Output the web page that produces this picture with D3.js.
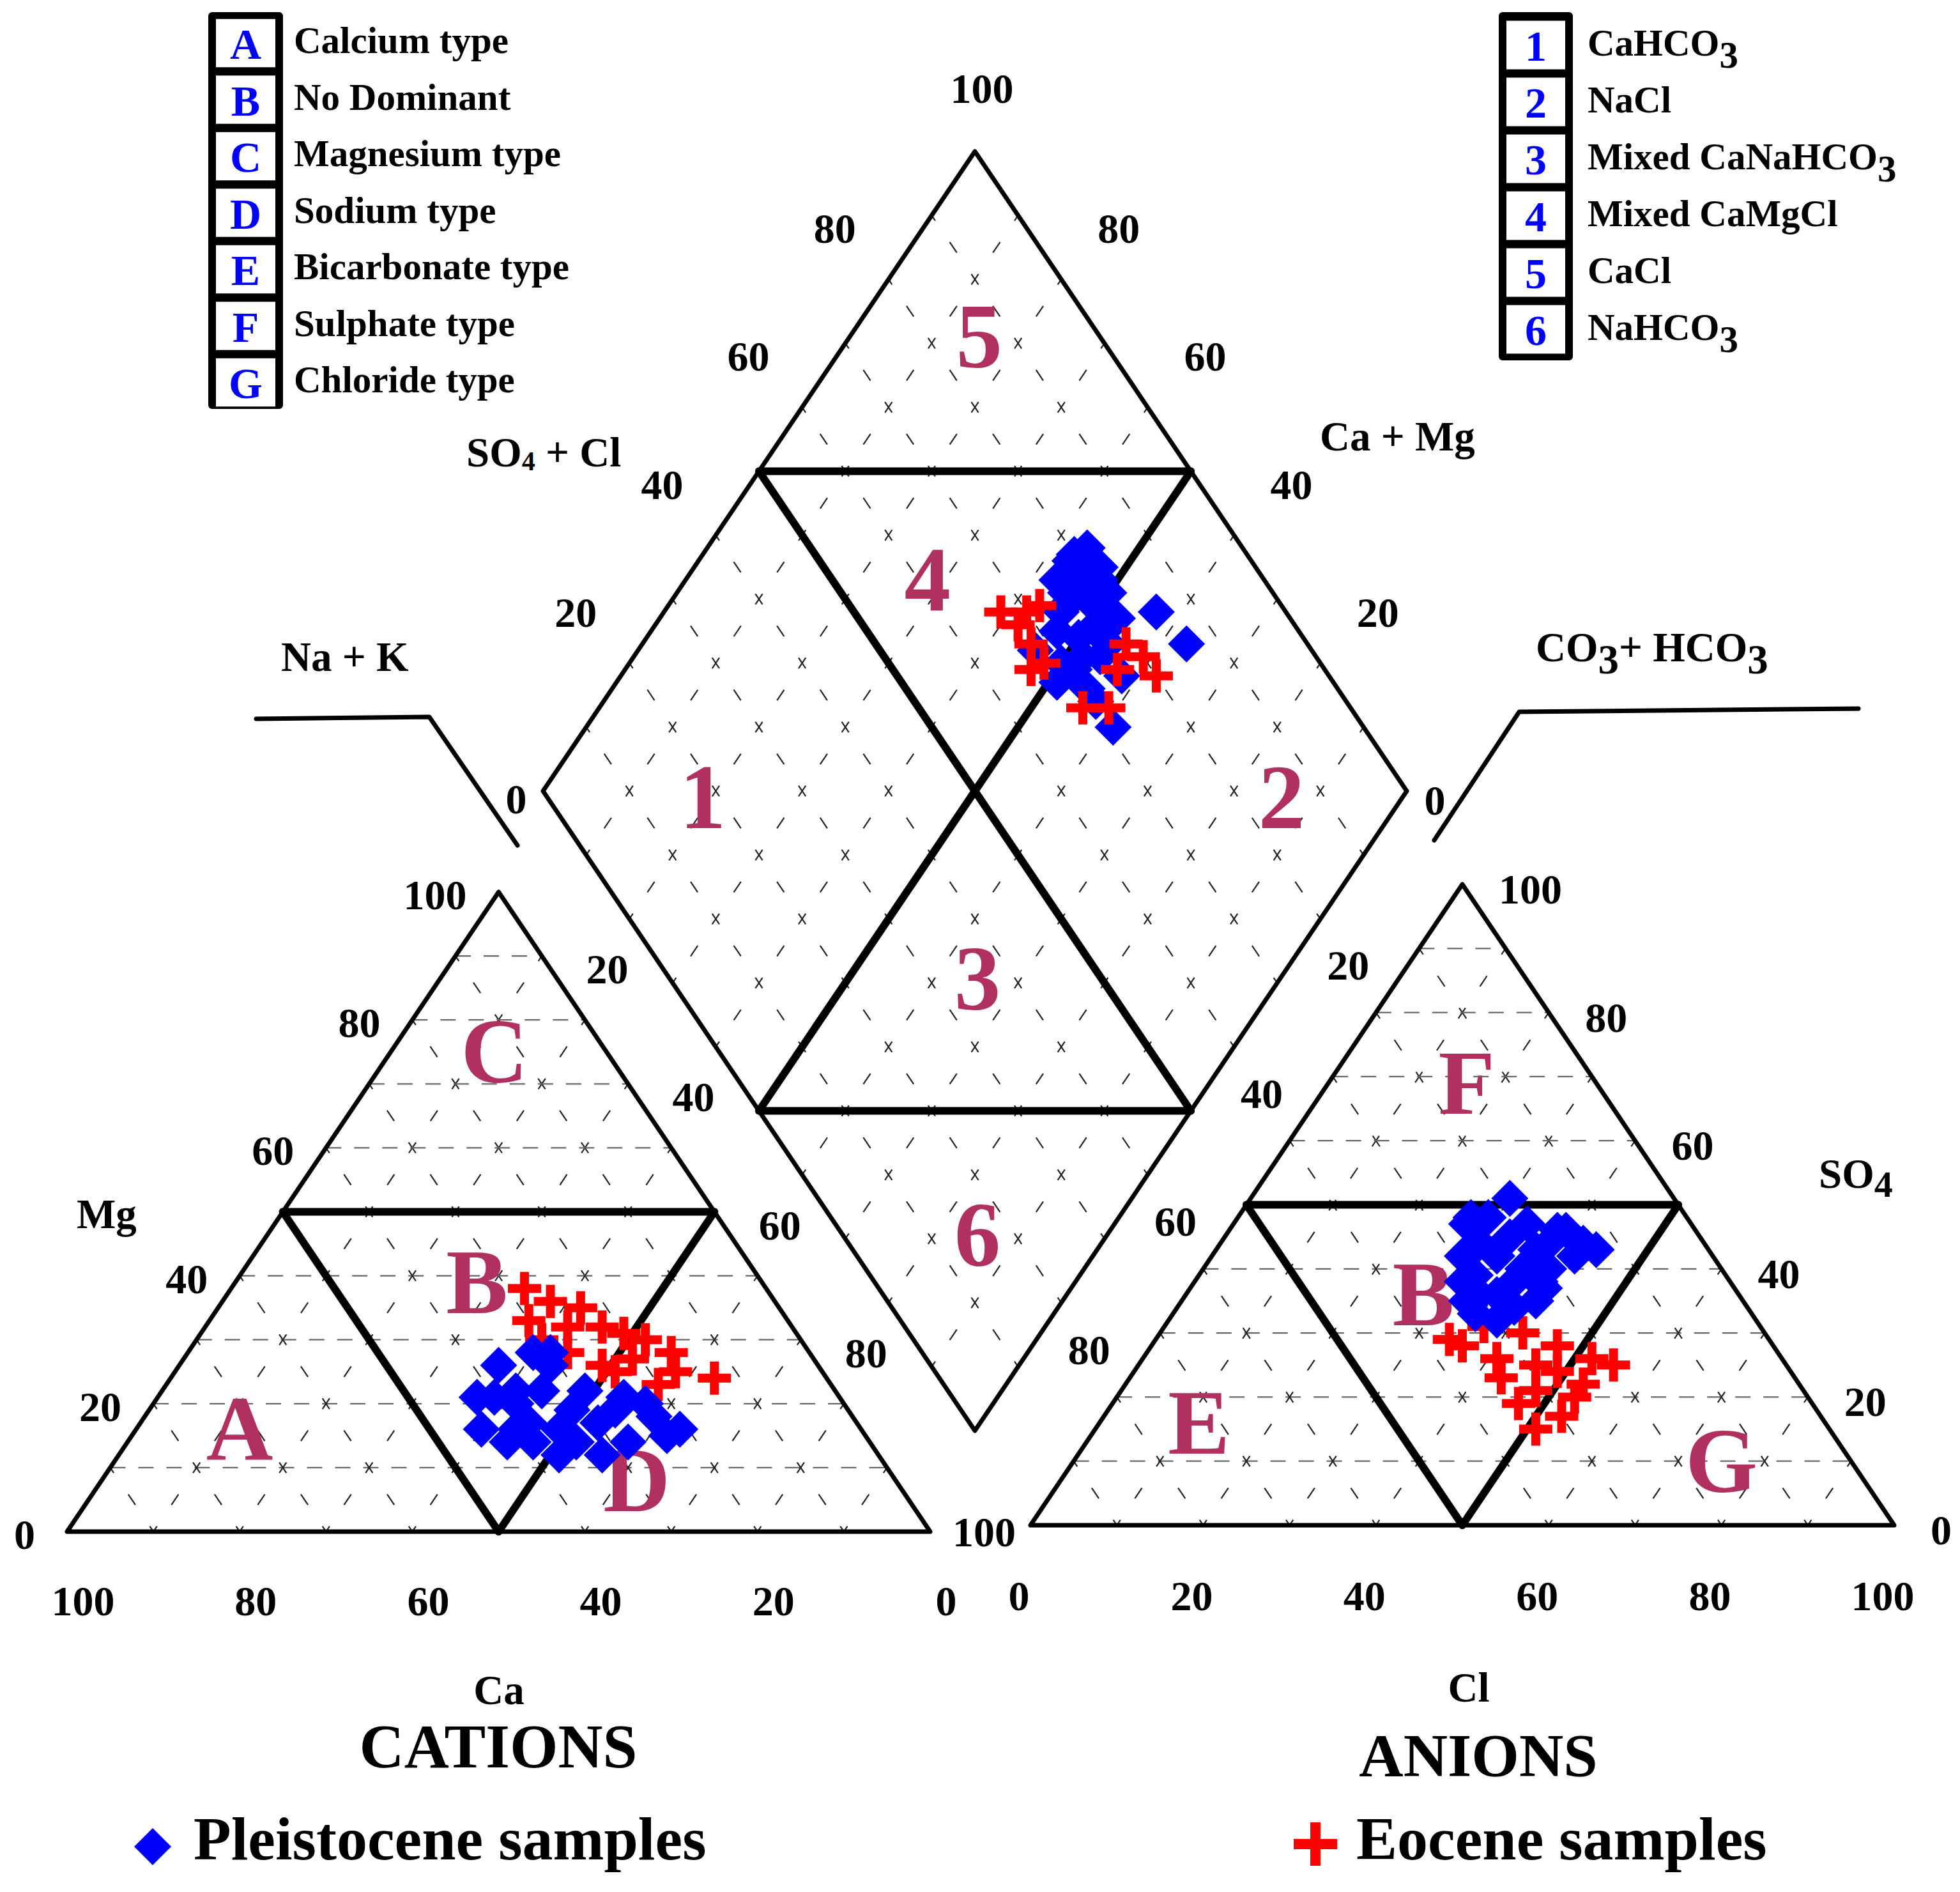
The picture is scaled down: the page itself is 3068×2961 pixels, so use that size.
<!DOCTYPE html>
<html>
<head>
<meta charset="utf-8">
<script src="https://cdn.jsdelivr.net/npm/d3@7/dist/d3.min.js"></script>
<style>
  body { margin: 0; background: #fff; }
  text { font-family: "Liberation Serif", "Times New Roman", serif; font-weight: bold; }
</style>
</head>
<body>
<div id="chart"></div>
<script>
/////////////////////////////////////////////////
/* Data */
/////////////////////////////////////////////////
const tickValues = [0, 20, 40, 60, 80, 100];
const innerTicks = [20, 40, 60, 80];
const gridValues = [10, 20, 30, 40, 50, 60, 70, 80, 90];

const typeKeys = ["A", "B", "C", "D", "E", "F", "G"];
const typeNames = ["Calcium type", "No Dominant", "Magnesium type", "Sodium type",
                   "Bicarbonate type", "Sulphate type", "Chloride type"];
const waterKeys = ["1", "2", "3", "4", "5", "6"];
// [main text, subscript]
const waterNames = [["CaHCO", "3"], ["NaCl", ""], ["Mixed CaNaHCO", "3"],
                    ["Mixed CaMgCl", ""], ["CaCl", ""], ["NaHCO", "3"]];

// cations [Ca, Mg, Na+K] in %
const pleistoceneCations = [
  [32, 28, 40], [37, 26, 37], [31, 26, 43], [40, 21, 39], [44, 16, 40], [42, 14, 44],
  [38, 17, 45], [39, 14, 47], [37, 12, 51], [29, 22, 49], [32, 12, 56], [25, 21, 54],
  [23, 20, 57], [21, 16, 63], [28, 14, 58], [32, 19, 49], [37, 22, 41], [30, 17, 53],
  [23, 18, 59], [38, 20, 42], [34, 22, 44], [35, 16, 49], [40, 16, 44], [34, 14, 52],
  [27, 19, 54], [42, 21, 37], [30, 28, 42], [23, 15, 62]
];
const eoceneCations = [
  [28, 38, 34], [26, 36, 38], [23, 35, 42], [30, 33, 37], [26, 32, 42], [22, 32, 46],
  [20, 31, 49], [18, 30, 52], [16, 28, 56], [13, 24, 63], [30, 30, 40], [28, 28, 44],
  [25, 26, 49], [24, 25, 51], [20, 23, 57], [17, 25, 58], [21, 27, 52]
];

// anions [CO3+HCO3, SO4, Cl] in %
const pleistoceneAnions = [
  [19, 51, 30], [26, 47, 27], [23, 48, 29], [19, 47, 34], [15, 46, 39], [13, 43, 44],
  [14, 44, 42], [29, 42, 29], [31, 38, 31], [32, 35, 33], [30, 32, 38], [24, 35, 41],
  [20, 40, 40], [22, 38, 40], [25, 42, 33], [25, 38, 37], [30, 36, 34], [18, 44, 38],
  [26, 44, 30], [22, 45, 33], [20, 43, 37], [16, 46, 38], [23, 40, 37], [29, 39, 32],
  [32, 33, 35], [27, 34, 39], [28, 36, 36], [22, 37, 41], [16, 42, 42], [25, 48, 27]
];
const eoceneAnions = [
  [37, 29, 34], [36, 28, 36], [32, 31, 37], [28, 30, 42], [25, 28, 47], [22, 26, 52],
  [20, 25, 55], [33, 26, 41], [34, 23, 43], [34, 19, 47], [34, 15, 51], [30, 17, 53],
  [27, 20, 53], [25, 22, 53], [27, 24, 49], [31, 21, 48], [29, 25, 46]
];

// diamond [Ca+Mg, SO4+Cl] in %
const pleistoceneDiamond = [
  [56, 82], [57, 79], [53, 82], [57, 76], [52, 81], [47, 80], [49, 79], [54, 68],
  [49, 68], [42, 76], [43, 71], [39, 71], [43, 85], [37, 86], [54, 75], [50, 74],
  [48, 71], [46, 75], [55, 76], [53, 72], [55, 79], [52, 78], [54, 74], [49, 77],
  [48, 73], [46, 77], [45, 71], [50, 70], [57, 80], [50, 81]
];
const eoceneDiamond = [
  [61, 67], [58, 70], [57, 72], [58, 68], [55, 68], [53, 66], [52, 68], [44, 69],
  [41, 72], [43, 76], [44, 79], [41, 80], [38, 80]
];

/////////////////////////////////////////////////
/* Layout */
/////////////////////////////////////////////////
const W = 3068, H = 2961;
const MAROON = "#b03060";
const BLUE = "#0000ff";
const RED = "#ff0000";

const svg = d3.select("#chart").append("svg")
  .attr("width", W).attr("height", H)
  .style("background", "#fff");

// scales for each plot
const xL = d3.scaleLinear().domain([0, 100]).range([105, 1456]);
const yL = d3.scaleLinear().domain([0, 100]).range([2397, 1396]);
const xR = d3.scaleLinear().domain([0, 100]).range([1613, 2965]);
const yR = d3.scaleLinear().domain([0, 100]).range([2387, 1384]);
const xD = d3.scaleLinear().domain([-100, 100]).range([850, 2202]);
const yD = d3.scaleLinear().domain([0, 200]).range([2239, 237]);

// ternary / diamond positions
function cat(mg, na) { return [xL(na + mg / 2), yL(mg)]; }
function ani(so4, cl) { return [xR(cl + so4 / 2), yR(so4)]; }
function dia(camg, so4cl) { return [xD(so4cl - camg), yD(camg + so4cl)]; }

const line = d3.line();

function seg(g, a, b, cls) {
  g.append("path").attr("class", cls).attr("d", line([a, b]));
}

/////////////////////////////////////////////////
/* Grid */
/////////////////////////////////////////////////
const grid = svg.append("g");
gridValues.forEach(v => {
  // left triangle
  seg(grid, cat(v, 0), cat(v, 100 - v), "hgrid");
  seg(grid, cat(0, v), cat(100 - v, v), "dgrid");
  seg(grid, cat(0, 100 - v), cat(100 - v, 0), "dgrid");
  // right triangle
  seg(grid, ani(v, 0), ani(v, 100 - v), "hgrid");
  seg(grid, ani(0, v), ani(100 - v, v), "dgrid");
  seg(grid, ani(0, 100 - v), ani(100 - v, 0), "dgrid");
  // diamond
  seg(grid, dia(v, 0), dia(v, 100), "dgrid");
  seg(grid, dia(0, v), dia(100, v), "dgrid");
});
grid.selectAll(".hgrid").attr("stroke", "#666").attr("stroke-width", 2.2)
  .attr("stroke-dasharray", "24,20").attr("fill", "none");
grid.selectAll(".dgrid").attr("stroke", "#222").attr("stroke-width", 2.2)
  .attr("stroke-dasharray", "20,40.4").attr("stroke-dashoffset", 10).attr("fill", "none");

/////////////////////////////////////////////////
/* Outlines and field boundaries */
/////////////////////////////////////////////////
const frame = svg.append("g").attr("fill", "none").attr("stroke", "#000")
  .attr("stroke-linejoin", "round").attr("stroke-linecap", "round");

frame.append("path").attr("stroke-width", 7)
  .attr("d", line([cat(0, 0), cat(0, 100), cat(100, 0)]) + "Z");
frame.append("path").attr("stroke-width", 7)
  .attr("d", line([ani(0, 0), ani(0, 100), ani(100, 0)]) + "Z");
frame.append("path").attr("stroke-width", 7)
  .attr("d", line([dia(0, 0), dia(100, 0), dia(100, 100), dia(0, 100)]) + "Z");

const thick = [
  [cat(50, 0), cat(50, 50)], [cat(50, 0), cat(0, 50)], [cat(0, 50), cat(50, 50)],
  [ani(50, 0), ani(50, 50)], [ani(50, 0), ani(0, 50)], [ani(0, 50), ani(50, 50)],
  [dia(100, 50), dia(0, 50)], [dia(50, 100), dia(50, 0)],
  [dia(100, 50), dia(50, 100)], [dia(50, 0), dia(0, 50)]
];
thick.forEach(s => frame.append("path").attr("stroke-width", 12).attr("d", line(s)));

// leader lines for Na + K and CO3 + HCO3
frame.append("path").attr("stroke-width", 7).attr("d", line([[401, 1125], [672, 1122], [810, 1323]]));
frame.append("path").attr("stroke-width", 7).attr("d", line([[2909, 1109], [2378, 1114], [2245, 1315]]));

/////////////////////////////////////////////////
/* Field labels */
/////////////////////////////////////////////////
const fields = svg.append("g").attr("fill", MAROON).attr("font-size", 145)
  .attr("text-anchor", "middle");
function field(p, t) { fields.append("text").attr("x", p[0]).attr("y", p[1] + 48).text(t); }
field(cat(75, 12), "C");
field(cat(39, 28), "B");
field(cat(16, 12), "A");
field(cat(8, 62), "D");
field(ani(69, 16), "F");
field(ani(36, 27.5), "B");
field(ani(16, 11.5), "E");
field(ani(10, 75), "G");
field(dia(85, 86), "5");
field(dia(72, 61), "4");
field(dia(81, 18), "1");
field(dia(14, 85), "2");
field(dia(35, 35.6), "3");
field(dia(15, 15.6), "6");

/////////////////////////////////////////////////
/* Tick labels */
/////////////////////////////////////////////////
const tl = svg.append("g").attr("font-size", 66).attr("fill", "#000");
function lab(x, y, t, anchor) {
  tl.append("text").attr("x", x).attr("y", y).attr("text-anchor", anchor || "middle").text(t);
}
function mid(a, b) { return [(a[0] + b[0]) / 2, (a[1] + b[1]) / 2]; }

tickValues.forEach(t => {
  // Ca along the bottom (100 at the left)
  lab(xL(100 - t) + 25, yL(0) + 131, t);
  // Mg on the left side
  const pm = cat(t, 0);
  lab(pm[0] - 50, pm[1] + 27, t, "end");
  // Cl along the bottom
  lab(xR(t) - 18, yR(0) + 133, t);
  // SO4 on the right side
  const ps = ani(t, 100 - t);
  lab(ps[0] + 57, ps[1] + 30, t, "start");
});
innerTicks.forEach(t => {
  // Na + K between cation triangle and diamond
  const pn = mid(cat(100 - t, t), dia(100 - t, 0));
  lab(pn[0], pn[1] + 22, t);
  // CO3 + HCO3 between anion triangle and diamond
  const ph = mid(ani(100 - t, 0), dia(0, 100 - t));
  lab(ph[0], ph[1] + 22, t);
  // SO4 + Cl on the diamond upper left edge
  const pu = dia(100, t);
  lab(pu[0] - 84, pu[1] - 57, t);
  // Ca + Mg on the diamond upper right edge
  const pr = dia(t, 100);
  lab(pr[0] + 90, pr[1] - 57, t);
});
lab((xL(100) + xR(0)) / 2 + 6, yL(0) + 23, 100);
lab(dia(100, 0)[0] - 42, dia(100, 0)[1] + 35, 0);
lab(dia(0, 100)[0] + 44, dia(0, 100)[1] + 37, 0);
lab(dia(100, 100)[0] + 11, dia(100, 100)[1] - 76, 100);

/////////////////////////////////////////////////
/* Axis titles */
/////////////////////////////////////////////////
const at = svg.append("g").attr("font-size", 65).attr("fill", "#000");
let t1 = at.append("text").attr("x", 730).attr("y", 730);
t1.append("tspan").text("SO");
t1.append("tspan").attr("font-size", 42).attr("dy", 6).text("4");
t1.append("tspan").attr("dy", -6).text(" + Cl");

at.append("text").attr("x", 2066).attr("y", 705).text("Ca + Mg");
at.append("text").attr("x", 440).attr("y", 1050).text("Na + K");

let t2 = at.append("text").attr("x", 2404).attr("y", 1035);
t2.append("tspan").text("CO");
t2.append("tspan").attr("dy", 19).text("3");
t2.append("tspan").attr("dy", -19).text("+ HCO");
t2.append("tspan").attr("dy", 19).text("3");

at.append("text").attr("x", 120).attr("y", 1922).text("Mg");
let t3 = at.append("text").attr("x", 2847).attr("y", 1859);
t3.append("tspan").text("SO");
t3.append("tspan").attr("font-size", 58).attr("dy", 14).text("4");

at.append("text").attr("x", 781).attr("y", 2667).attr("text-anchor", "middle").text("Ca");
at.append("text").attr("x", 2299).attr("y", 2663).attr("text-anchor", "middle").text("Cl");
at.append("text").attr("x", 780).attr("y", 2766).attr("text-anchor", "middle")
  .attr("font-size", 97).text("CATIONS");
at.append("text").attr("x", 2314).attr("y", 2780).attr("text-anchor", "middle")
  .attr("font-size", 96).text("ANIONS");

/////////////////////////////////////////////////
/* Sample markers */
/////////////////////////////////////////////////
function diamondPath(r) { return `M0,${-r}L${r},0L0,${r}L${-r},0Z`; }
function crossPath(a, h) {
  return `M${-h},${-a}H${h}V${-h}H${a}V${h}H${h}V${a}H${-h}V${h}H${-a}V${-h}H${-h}Z`;
}

const marks = svg.append("g");
function drawDiamonds(pts) {
  marks.append("g").selectAll("path").data(pts).join("path")
    .attr("d", diamondPath(29)).attr("fill", BLUE)
    .attr("transform", d => `translate(${d[0]},${d[1]})`);
}
function drawCrosses(pts) {
  marks.append("g").selectAll("path").data(pts).join("path")
    .attr("d", crossPath(26, 7)).attr("fill", RED)
    .attr("transform", d => `translate(${d[0]},${d[1]})`);
}

drawCrosses(eoceneCations.map(d => cat(d[1], d[2])));
drawDiamonds(pleistoceneCations.map(d => cat(d[1], d[2])));
drawCrosses(eoceneAnions.map(d => ani(d[1], d[2])));
drawDiamonds(pleistoceneAnions.map(d => ani(d[1], d[2])));
drawDiamonds(pleistoceneDiamond.map(d => dia(d[0], d[1])));
drawCrosses(eoceneDiamond.map(d => dia(d[0], d[1])));

/////////////////////////////////////////////////
/* Legends */
/////////////////////////////////////////////////
function keyBox(x0, x1, yTop, yBot, c0, step, keys) {
  const g = svg.append("g");
  g.append("rect").attr("x", x0).attr("y", yTop).attr("width", x1 - x0)
    .attr("height", yBot - yTop).attr("rx", 6).attr("fill", "#000");
  keys.forEach((k, i) => {
    const cy = c0 + i * step;
    g.append("rect").attr("x", x0 + 12).attr("y", cy - step / 2 + 7)
      .attr("width", x1 - x0 - 24).attr("height", step - 13).attr("fill", "#fff");
    g.append("text").attr("x", (x0 + x1) / 2).attr("y", cy + 25)
      .attr("text-anchor", "middle").attr("font-size", 68).attr("fill", BLUE).text(k);
  });
  return g;
}

const lg1 = keyBox(326, 443, 19, 640, 67, 88.5, typeKeys);
typeNames.forEach((t, i) => {
  lg1.append("text").attr("x", 460).attr("y", 67 + i * 88.5 + 16)
    .attr("font-size", 59).text(t);
});

const lg2 = keyBox(2346, 2462, 19, 564, 70, 89, waterKeys);
waterNames.forEach((t, i) => {
  const tx = lg2.append("text").attr("x", 2485).attr("y", 70 + i * 89 + 17)
    .attr("font-size", 59);
  tx.append("tspan").text(t[0]);
  if (t[1]) tx.append("tspan").attr("dy", 19).text(t[1]);
});

// sample legend
const lg3 = svg.append("g").attr("font-size", 96);
lg3.append("path").attr("d", diamondPath(29)).attr("fill", BLUE)
  .attr("transform", "translate(239,2890)");
lg3.append("text").attr("x", 303).attr("y", 2910).text("Pleistocene samples");
lg3.append("path").attr("d", crossPath(34, 8)).attr("fill", RED)
  .attr("transform", "translate(2059,2886)");
lg3.append("text").attr("x", 2123).attr("y", 2910).text("Eocene samples");
</script>
</body>
</html>
